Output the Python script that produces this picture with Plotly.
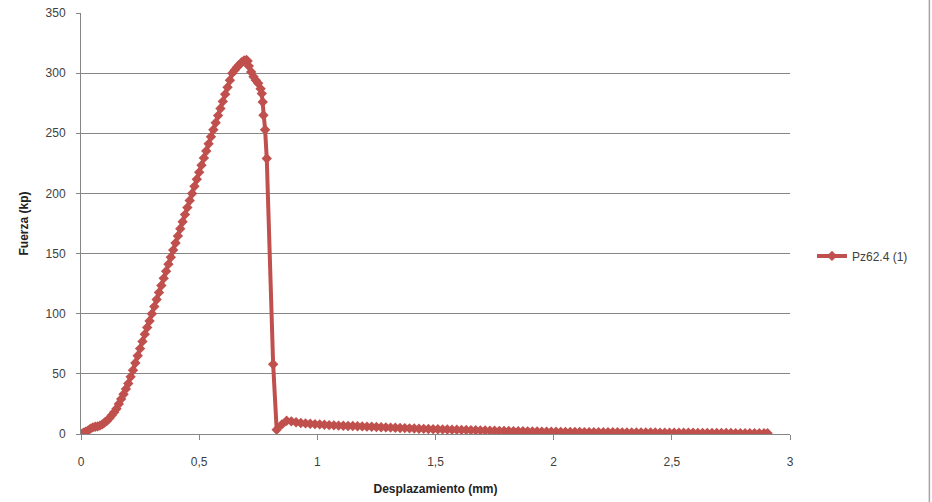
import plotly.graph_objects as go

# Ensayo Pz62.4 (1): desplazamiento (mm) frente a fuerza (kp)
series_name = "Pz62.4 (1)"

desplazamiento = [
    0.00, 0.01, 0.02, 0.03, 0.04, 0.05, 0.06, 0.07, 0.08, 0.09,
    0.10, 0.11, 0.12, 0.13, 0.14, 0.15, 0.16, 0.17, 0.18, 0.19,
    0.20, 0.21, 0.22, 0.23, 0.24, 0.25, 0.26, 0.27, 0.28, 0.29,
    0.30, 0.31, 0.32, 0.33, 0.34, 0.35, 0.36, 0.37, 0.38, 0.39,
    0.40, 0.41, 0.42, 0.43, 0.44, 0.45, 0.46, 0.47, 0.48, 0.49,
    0.50, 0.51, 0.52, 0.53, 0.54, 0.55, 0.56, 0.57, 0.58, 0.59,
    0.60, 0.61, 0.62, 0.63, 0.64, 0.65, 0.66, 0.67, 0.68, 0.69,
    0.70, 0.705, 0.71, 0.72, 0.73, 0.74, 0.75, 0.76, 0.765, 0.769,
    0.772, 0.779, 0.786, 0.813, 0.828, 0.85, 0.87,
    0.89, 0.91, 0.93, 0.95, 0.97, 0.99, 1.01, 1.03, 1.05, 1.07,
    1.09, 1.11, 1.13, 1.15, 1.17, 1.19, 1.21, 1.23, 1.25, 1.27,
    1.29, 1.31, 1.33, 1.35, 1.37, 1.39, 1.41, 1.43, 1.45, 1.47,
    1.49, 1.51, 1.53, 1.55, 1.57, 1.59, 1.61, 1.63, 1.65, 1.67,
    1.69, 1.71, 1.73, 1.75, 1.77, 1.79, 1.81, 1.83, 1.85, 1.87,
    1.89, 1.91, 1.93, 1.95, 1.97, 1.99, 2.01, 2.03, 2.05, 2.07,
    2.09, 2.11, 2.13, 2.15, 2.17, 2.19, 2.21, 2.23, 2.25, 2.27,
    2.29, 2.31, 2.33, 2.35, 2.37, 2.39, 2.41, 2.43, 2.45, 2.47,
    2.49, 2.51, 2.53, 2.55, 2.57, 2.59, 2.61, 2.63, 2.65, 2.67,
    2.69, 2.71, 2.73, 2.75, 2.77, 2.79, 2.81, 2.83, 2.85, 2.87,
    2.89, 2.905,
]

fuerza = [
    0.0, 1.0, 2.0, 3.0, 4.5, 5.5, 6.0, 6.3, 7.0, 8.0,
    9.5, 11.0, 13.0, 15.5, 18.0, 21.0, 25.0, 29.0, 33.0, 37.5,
    42.0, 47.5, 53.0, 59.0, 65.0, 71.0, 77.0, 83.0, 88.5, 94.0,
    100.0, 105.9, 111.8, 117.6, 123.5, 129.4, 135.3, 141.2, 147.0, 152.9,
    158.8, 164.7, 170.6, 176.5, 182.4, 188.2, 194.1, 200.0, 205.9, 211.8,
    217.6, 223.5, 229.4, 235.3, 241.2, 247.1, 252.9, 258.8, 264.7, 270.6,
    276.5, 282.4, 288.2, 294.1, 300.0, 302.5, 305.0, 307.0, 309.0, 310.5,
    311.0, 310.0, 306.0, 301.0, 297.0, 294.0, 291.5, 287.0, 283.0, 276.0,
    265.0, 253.0, 229.0, 58.0, 3.5, 8.0, 11.0,
    10.5, 9.8, 9.2, 8.8, 8.5, 8.2, 8.0, 7.7, 7.4, 7.2,
    7.0, 6.9, 6.7, 6.6, 6.4, 6.3, 6.1, 6.0, 5.8, 5.6,
    5.5, 5.3, 5.2, 5.0, 4.9, 4.7, 4.6, 4.4, 4.3, 4.1,
    4.0, 3.9, 3.8, 3.7, 3.6, 3.5, 3.4, 3.3, 3.2, 3.1,
    3.0, 2.9, 2.8, 2.7, 2.6, 2.6, 2.5, 2.4, 2.3, 2.3,
    2.2, 2.1, 2.1, 2.0, 2.0, 1.9, 1.9, 1.8, 1.8, 1.7,
    1.7, 1.7, 1.6, 1.6, 1.5, 1.5, 1.5, 1.4, 1.4, 1.4,
    1.3, 1.3, 1.3, 1.3, 1.2, 1.2, 1.2, 1.2, 1.1, 1.1,
    1.1, 1.1, 1.0, 1.0, 1.0, 1.0, 0.9, 0.9, 0.9, 0.9,
    0.8, 0.8, 0.8, 0.8, 0.7, 0.7, 0.7, 0.7, 0.6, 0.6,
    0.6, 0.6,
]

x_ticks = [0, 0.5, 1, 1.5, 2, 2.5, 3]
x_tick_labels = ["0", "0,5", "1", "1,5", "2", "2,5", "3"]
y_ticks = [0, 50, 100, 150, 200, 250, 300, 350]
y_tick_labels = ["0", "50", "100", "150", "200", "250", "300", "350"]

red = "#C0504D"
grid = "#868686"
text = "#404040"
font = "Liberation Sans"

fig = go.Figure()
fig.add_trace(go.Scatter(
    x=desplazamiento, y=fuerza, name=series_name,
    mode="lines+markers",
    line=dict(color=red, width=4),
    marker=dict(symbol="diamond", size=8, color=red),
))

fig.update_layout(
    width=932, height=502,
    margin=dict(l=81, r=142, t=13, b=68),
    paper_bgcolor="white", plot_bgcolor="white",
    font=dict(family=font, size=12, color=text),
    showlegend=True,
    legend=dict(x=1.031, y=0.423, xanchor="left", yanchor="middle",
                font=dict(size=12, color=text), itemwidth=30,
                bgcolor="rgba(0,0,0,0)"),
    xaxis=dict(
        range=[0, 3], tickvals=x_ticks, ticktext=x_tick_labels,
        showgrid=False, zeroline=False, automargin=False,
        showline=True, linecolor=grid, linewidth=1,
        ticks="outside", ticklen=5, tickcolor=grid,
        ticklabelstandoff=12,
        title=dict(text="<b>Desplazamiento (mm)</b>",
                   font=dict(size=12, color="#222"), standoff=16),
    ),
    yaxis=dict(
        range=[0, 350], tickvals=y_ticks, ticktext=y_tick_labels,
        showgrid=True, gridcolor=grid, gridwidth=1, zeroline=False,
        automargin=False,
        showline=True, linecolor=grid, linewidth=1,
        ticks="outside", ticklen=4, tickcolor=grid,
        ticklabelstandoff=8,
        title=dict(text="<b>Fuerza (kp)</b>",
                   font=dict(size=12, color="#222"), standoff=14),
    ),
    shapes=[dict(type="line", xref="paper", yref="paper",
                 x0=1.1966, x1=1.1966, y0=-0.17, y1=1.04,
                 line=dict(color="#A6A6A6", width=1.5))],
)

fig.write_html("out.html")
